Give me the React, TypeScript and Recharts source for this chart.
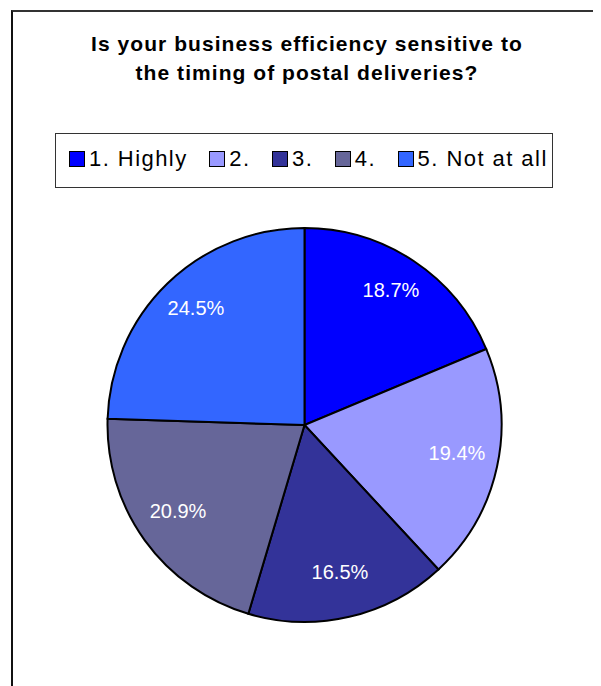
import { PieChart, Pie, Cell, Legend } from "recharts";

const categories = ["1. Highly", "2.", "3.", "4.", "5. Not at all"];
const shares = [18.7, 19.4, 16.5, 20.9, 24.5];
const colors = ["#0000FF", "#9999FF", "#333399", "#666699", "#3366FF"];
const titleLines = [
  "Is your business efficiency sensitive to",
  "the timing of postal deliveries?",
];

const data = categories.map((name, i) => ({ name, value: shares[i] }));

const FONT = "Arial, 'Liberation Sans', sans-serif";
const RAD = Math.PI / 180;

// percentage labels sit inside each slice, nudged up a little
function SliceLabel(props: any) {
  const { cx, cy, midAngle, value } = props;
  const r = 156;
  const x = cx + r * Math.cos(-midAngle * RAD);
  const y = cy + r * Math.sin(-midAngle * RAD) - 5;
  return (
    <text
      x={x}
      y={y}
      fill="#fff"
      fontSize={20}
      fontFamily={FONT}
      textAnchor="middle"
      dominantBaseline="central"
    >
      {`${value.toFixed(1)}%`}
    </text>
  );
}

function LegendBox(props: any) {
  const { payload } = props;
  const ls = 1.45;
  return (
    <div
      style={{
        boxSizing: "border-box",
        width: 498,
        height: 55,
        border: "1px solid #333",
        background: "#fff",
        display: "flex",
        justifyContent: "flex-start",
        alignItems: "flex-start",
        paddingTop: 14,
        paddingLeft: 13,
        fontFamily: FONT,
        fontSize: 22,
        letterSpacing: ls,
        color: "#000",
      }}
    >
      {(payload || []).map((entry: any, i: number) => (
        <div
          key={i}
          style={{ display: "flex", alignItems: "center", marginRight: i < 4 ? 23 - ls : 0 }}
        >
          <span
            style={{
              display: "inline-block",
              width: 14,
              height: 14,
              background: entry.color,
              border: "1px solid #000",
              marginRight: 4,
            }}
          />
          <span style={{ lineHeight: "22px" }}>{entry.value}</span>
        </div>
      ))}
    </div>
  );
}

export default function App() {
  return (
    <div
      style={{
        position: "relative",
        margin: "-8px 0 0 -8px",
        width: 601,
        height: 686,
        overflow: "hidden",
        background: "#fff",
      }}
    >
      <div
        style={{
          position: "absolute",
          left: 11,
          top: 10,
          width: 620,
          height: 700,
          borderLeft: "2px solid #111",
          borderTop: "2px solid #333",
        }}
      />
      <div
        style={{
          position: "absolute",
          left: 0,
          width: 614,
          top: 29,
          textAlign: "center",
          fontFamily: FONT,
          fontWeight: "bold",
          fontSize: 21,
          letterSpacing: 1.05,
          lineHeight: "29px",
          color: "#000",
        }}
      >
        {titleLines.map((t) => (
          <div key={t}>{t}</div>
        ))}
      </div>
      <PieChart
        width={601}
        height={686}
        margin={{ top: 0, right: 0, bottom: 0, left: 0 }}
        style={{ position: "absolute", left: 0, top: 0 }}
      >
        <Legend
          content={<LegendBox />}
          wrapperStyle={{ position: "absolute", left: 55, top: 133, width: 498 }}
        />
        <Pie
          data={data}
          dataKey="value"
          nameKey="name"
          cx={304.5}
          cy={425}
          outerRadius={197}
          startAngle={90}
          endAngle={-270}
          stroke="#000"
          strokeWidth={2}
          labelLine={false}
          label={SliceLabel}
          isAnimationActive={false}
        >
          {data.map((d, i) => (
            <Cell key={d.name} fill={colors[i]} />
          ))}
        </Pie>
      </PieChart>
    </div>
  );
}
